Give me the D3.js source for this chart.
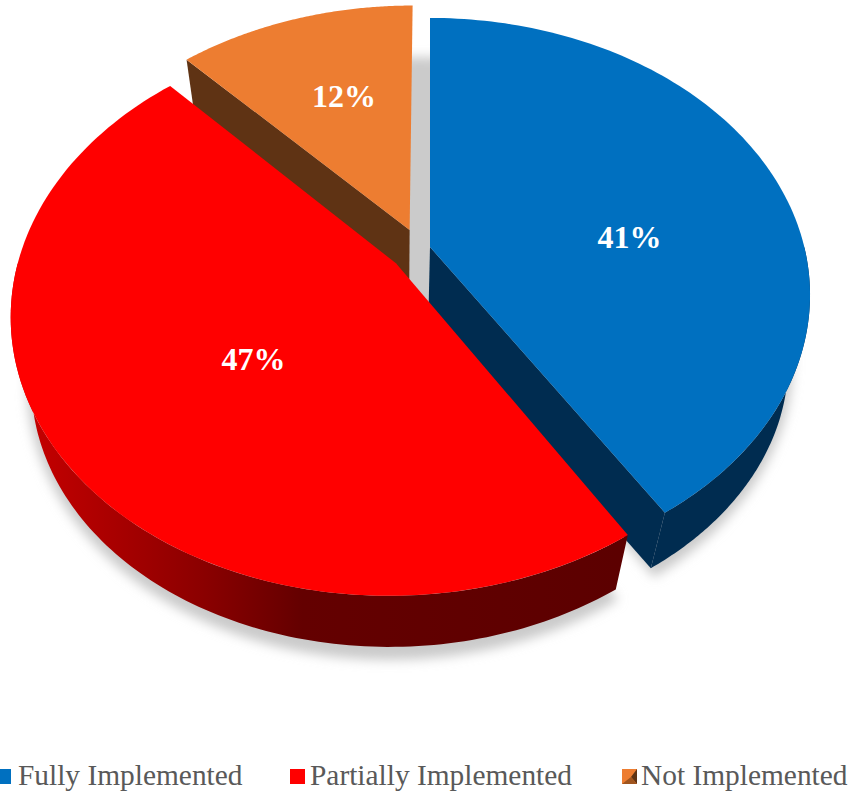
<!DOCTYPE html>
<html>
<head>
<meta charset="utf-8">
<script src="https://cdn.jsdelivr.net/npm/d3@7"></script>
<style>
  html, body { margin: 0; padding: 0; background: #fff; }
  svg { display: block; }
</style>
</head>
<body>
<script>
const categories = ["Fully Implemented", "Partially Implemented", "Not Implemented"];
const shares = [41, 47, 12];
const shareLabels = ["41%", "47%", "12%"];
const topColors = ["#0070c0", "#ff0000", "#ed7d31"];
const cutColors = ["#002c50", "#5f0000", "#5f3314"];
const sliceOffsets = [[0, 0], [-0.09, 0.06], [-0.055, -0.064]];
const labelCentres = [[629.5, 237], [253.5, 359], [344, 96]];
const legendSwatchX = [0, 290, 622];
const legendTextX = [18, 310, 641];

const W = 853, H = 793;
const svg = d3.select("body").append("svg").attr("width", W).attr("height", H);
const defs = svg.append("defs");

// Perspective view of the pie plane: u to the right, v towards the viewer.
const view = { x: 430, y: 247, rx: 374.3, ry: 268.7, k: 0.173 };
const project = (u, v) => {
  const w = 1 - view.k * v;
  return [view.x + view.rx * u / w, view.y + view.ry * v / w];
};
// The underside of the pie shrinks towards a vanishing point below the view.
const sink = { x: 400, y: 1560, s: 0.947 };
const lower = ([x, y]) => [sink.x + sink.s * (x - sink.x), sink.y + sink.s * (y - sink.y)];

const arcs = d3.pie().sort(null).value(d => d)(shares);
const rim = (i, a) => project(sliceOffsets[i][0] + Math.sin(a), sliceOffsets[i][1] - Math.cos(a));
const apex = i => project(sliceOffsets[i][0], sliceOffsets[i][1]);
const sweep = (a0, a1) => d3.range(0, 121).map(t => a0 + (a1 - a0) * t / 120);
const line = d3.line();

const topOutline = i => [apex(i), ...sweep(arcs[i].startAngle, arcs[i].endAngle).map(a => rim(i, a))];
const wallOutline = (i, a0, a1) => {
  const edge = sweep(a0, a1).map(a => rim(i, a));
  return [...edge, ...edge.slice().reverse().map(lower)];
};
const cutOutline = (i, a) => [apex(i), rim(i, a), lower(rim(i, a)), lower(apex(i))];

// Soft drop shadow cast by the underside of the pie.
defs.append("filter").attr("id", "soft")
  .attr("x", "-10%").attr("y", "-10%").attr("width", "120%").attr("height", "120%")
  .append("feGaussianBlur").attr("stdDeviation", 5);

const shadow = svg.append("g").attr("filter", "url(#soft)").attr("fill", "#cbcbcb")
  .attr("transform", "translate(406 385) scale(1.012 1.05) translate(-406 -385)");
arcs.forEach((d, i) => {
  shadow.append("path").attr("d", line(topOutline(i).map(lower)) + "Z");
});
// The shadow also shows through the gap behind the pulled-out slices.
const shadowDisk = sweep(0, 2 * Math.PI).map(a => lower(project(Math.sin(a) - 0.03, -Math.cos(a) - 0.15)));
shadow.append("path").attr("d", line(shadowDisk) + "Z");

// Shaded wall of the red slice, lightest at its left end.
const redWall = defs.append("linearGradient").attr("id", "redWall")
  .attr("gradientUnits", "userSpaceOnUse")
  .attr("x1", 20).attr("x2", 620).attr("y1", 0).attr("y2", 0);
[[0, "#c80000"], [0.3, "#8c0000"], [0.47, "#640000"], [1, "#5c0000"]].forEach(([o, c]) =>
  redWall.append("stop").attr("offset", o).attr("stop-color", c));

const wallFill = i => i === 1 ? "url(#redWall)" : cutColors[i];
const wallSpan = i => {
  const a0 = arcs[i].startAngle, a1 = arcs[i].endAngle;
  return [Math.max(a0, Math.PI / 2), Math.min(a1, 3 * Math.PI / 2)];
};

// Back to front: orange, blue, then red, which overlaps the others' cut faces.
[2, 0, 1].forEach(i => {
  const g = svg.append("g");
  if (i === 2) g.append("path").attr("d", line(cutOutline(i, arcs[i].startAngle)) + "Z").attr("fill", cutColors[i]);
  if (i === 0) {
    g.append("path").attr("d", line(cutOutline(i, arcs[i].endAngle)) + "Z").attr("fill", cutColors[i]);
  }
  const [s0, s1] = wallSpan(i);
  if (s1 > s0) {
    g.append("path").attr("d", line(wallOutline(i, s0, s1)) + "Z").attr("fill", wallFill(i));
  }
  g.append("path").attr("d", line(topOutline(i)) + "Z").attr("fill", topColors[i]);
});

// Percentages on the slices
svg.append("g").selectAll("text").data(shareLabels).join("text")
  .attr("x", (d, i) => labelCentres[i][0])
  .attr("y", (d, i) => labelCentres[i][1])
  .attr("text-anchor", "middle").attr("dominant-baseline", "central")
  .attr("font-family", "'Liberation Serif', serif")
  .attr("font-weight", "bold").attr("font-size", 32).attr("fill", "#fff")
  .text(d => d);

// Legend row
const legend = svg.append("g");
categories.forEach((c, i) => {
  const x = legendSwatchX[i];
  if (i === 2) {
    // Bevelled swatch standing in for the slice's top and wall colours
    legend.append("rect").attr("x", x).attr("y", 769).attr("width", 15).attr("height", 15).attr("fill", topColors[i]);
    legend.append("path").attr("d", line([[x + 15, 769], [x + 15, 784], [x + 9, 777]]) + "Z").attr("fill", cutColors[i]);
    legend.append("path").attr("d", line([[x, 784], [x + 15, 784], [x + 9, 777]]) + "Z").attr("fill", "#a0551f");
  } else {
    legend.append("rect").attr("x", x).attr("y", 769).attr("width", i === 0 ? 11 : 15).attr("height", 15).attr("fill", topColors[i]);
  }
  legend.append("text").attr("x", legendTextX[i]).attr("y", 785)
    .attr("font-family", "'Liberation Serif', serif").attr("font-size", 29.4)
    .attr("fill", "#595959").text(c);
});
</script>
</body>
</html>
